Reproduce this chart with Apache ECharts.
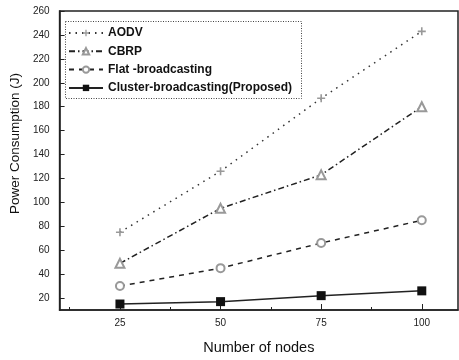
<!DOCTYPE html>
<html><head><meta charset="utf-8">
<script src="https://cdn.jsdelivr.net/npm/echarts@6/dist/echarts.min.js"></script>
<style>html,body{margin:0;padding:0;background:#fff}#c{width:459px;height:360px}</style>
</head><body><div id="c"></div>
<script>
const nodes = [25, 50, 75, 100];
const aodv = [75, 126, 187, 243];
const cbrp = [49, 95, 123, 180];
const flat = [30, 45, 66, 85];
const cluster = [15, 17, 22, 26];
const seriesNames = ['AODV', 'CBRP', 'Flat -broadcasting', 'Cluster-broadcasting(Proposed)'];
const yTicks = [20,40,60,80,100,120,140,160,180,200,220,240,260];
const xTicks = [25, 50, 75, 100];
const xMinorTicks = [12.5, 37.5, 62.5, 87.5];

const pairs = v => nodes.map((n, i) => [n, v[i]]);
const plusPath = 'path://M4,0h2v4h4v2h-4v4h-2v-4h-4v-2h4z';
const font = 'Liberation Sans';

const chart = echarts.init(document.getElementById('c'), null, {renderer: 'canvas'});
chart.setOption({
  animation: false,
  backgroundColor: '#fff',
  grid: {left: 54, top: 11, right: 1, bottom: 44, show: true, borderColor: '#222', borderWidth: 1.5},
  legend: {
    orient: 'vertical', left: 68, top: 26, padding: 0, itemWidth: 34, itemHeight: 8, itemGap: 4.3,
    data: seriesNames,
    textStyle: {fontFamily: font, fontSize: 12, fontWeight: 'bold', color: '#111', lineHeight: 14}
  },
  graphic: [{
    type: 'rect', left: 63, top: 19, shape: {width: 236, height: 77},
    style: {fill: 'none', stroke: '#444', lineWidth: 1, lineDash: [1, 1.5]}, z: 100
  }],
  xAxis: [{
    type: 'value', min: 10, max: 109, position: 'bottom',
    name: 'Number of nodes', nameLocation: 'middle', nameGap: 30,
    nameTextStyle: {fontFamily: font, fontSize: 14.5, color: '#111'},
    axisLine: {lineStyle: {color: '#222', width: 1.5}},
    axisTick: {inside: true, length: 6, customValues: xTicks, lineStyle: {color: '#222'}},
    axisLabel: {customValues: xTicks, fontFamily: font, fontSize: 10, color: '#222', margin: 8},
    splitLine: {show: false}
  }, {
    type: 'value', min: 10, max: 109, position: 'bottom',
    axisLine: {show: false},
    axisTick: {inside: true, length: 3, customValues: xMinorTicks, lineStyle: {color: '#222'}},
    axisLabel: {show: false}, splitLine: {show: false}
  }],
  yAxis: {
    type: 'value', min: 10, max: 260,
    name: 'Power Consumption (J)', nameLocation: 'middle', nameGap: 37,
    nameTextStyle: {fontFamily: font, fontSize: 13.5, color: '#111', padding: [0, 0, 0, 34]},
    axisLine: {show: true, lineStyle: {color: '#222', width: 1.5}},
    axisTick: {show: true, inside: true, length: 5, customValues: yTicks, lineStyle: {color: '#222'}},
    axisLabel: {customValues: yTicks, fontFamily: font, fontSize: 10, color: '#222', margin: 10},
    splitLine: {show: false}
  },
  series: [{
    name: seriesNames[0], type: 'line', data: pairs(aodv),
    symbol: plusPath, symbolSize: 8,
    itemStyle: {color: '#999'},
    lineStyle: {color: '#333', width: 1.5, type: [1.5, 5]}
  }, {
    name: seriesNames[1], type: 'line', data: pairs(cbrp),
    symbol: 'emptyTriangle', symbolSize: 9,
    itemStyle: {color: '#999', borderWidth: 1},
    lineStyle: {color: '#222', width: 1.5, type: [6, 3, 1.5, 3]}
  }, {
    name: seriesNames[2], type: 'line', data: pairs(flat),
    symbol: 'emptyCircle', symbolSize: 8,
    itemStyle: {color: '#999', borderWidth: 1},
    lineStyle: {color: '#222', width: 1.5, type: [5, 5]}
  }, {
    name: seriesNames[3], type: 'line', data: pairs(cluster),
    symbol: 'rect', symbolSize: 9,
    itemStyle: {color: '#111'},
    lineStyle: {color: '#222', width: 1.5, type: 'solid'}
  }]
});
</script>
</body></html>
